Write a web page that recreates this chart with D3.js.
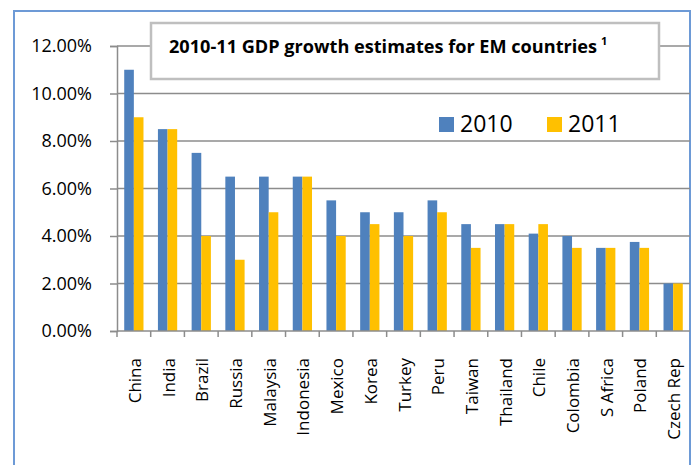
<!DOCTYPE html>
<html>
<head>
  <script src="https://d3js.org/d3.v7.min.js"></script>
  <style>
    body { margin: 0; background: #ffffff; }
    svg { display: block; font-family: "Open Sans", "DejaVu Sans", sans-serif; }
    .grid line { stroke: #8c8c8c; stroke-width: 1.5; }
    .axis path, .axis line { stroke: #8c8c8c; stroke-width: 1.5; }
    .axis text { fill: #000; font-size: 17px; font-family: "Open Sans", sans-serif; }
    .yaxis text { font-size: 18px; }
  </style>
</head>
<body>
<script>
var countries = ["China", "India", "Brazil", "Russia", "Malaysia", "Indonesia", "Mexico", "Korea",
  "Turkey", "Peru", "Taiwan", "Thailand", "Chile", "Colombia", "S Africa", "Poland", "Czech Rep"];
var growth2010 = [11, 8.5, 7.5, 6.5, 6.5, 6.5, 5.5, 5, 5, 5.5, 4.5, 4.5, 4.1, 4, 3.5, 3.75, 2];
var growth2011 = [9, 8.5, 4, 3, 5, 6.5, 4, 4.5, 4, 5, 3.5, 4.5, 4.5, 3.5, 3.5, 3.5, 2];
var yTicks = [0, 2, 4, 6, 8, 10, 12];
var seriesNames = ["2010", "2011"];
var colors = ["#4f81bd", "#ffc000"];

var width = 695, height = 465;
var margin = { left: 117, right: 5, top: 46, bottom: 134 };

var svg = d3.select("body").append("svg")
  .attr("width", width).attr("height", height);

// outer chart frame (bottom is cropped off)
svg.append("rect")
  .attr("x", 14).attr("y", 11)
  .attr("width", 676).attr("height", 470)
  .attr("fill", "none")
  .attr("stroke", "#6d9ad6")
  .attr("stroke-width", 2);

var x = d3.scaleBand()
  .domain(countries)
  .range([margin.left, width - margin.right]);

var y = d3.scaleLinear()
  .domain([0, 12])
  .range([height - margin.bottom, margin.top]);

var xs = d3.scaleBand()
  .domain(seriesNames)
  .range([0, x.bandwidth()])
  .paddingInner(0)
  .paddingOuter(0.75);

// gridlines
svg.append("g").attr("class", "grid")
  .selectAll("line")
  .data(yTicks.slice(1))
  .enter().append("line")
  .attr("x1", margin.left).attr("x2", width - margin.right)
  .attr("y1", function(d) { return y(d); })
  .attr("y2", function(d) { return y(d); });

// bars
var rows = countries.map(function(c, i) { return { c: c, v: [growth2010[i], growth2011[i]] }; });
var groups = svg.append("g").selectAll("g")
  .data(rows)
  .enter().append("g")
  .attr("transform", function(d) { return "translate(" + x(d.c) + ",0)"; });

groups.selectAll("rect")
  .data(function(d) { return d.v.map(function(v, j) { return { s: seriesNames[j], v: v, j: j }; }); })
  .enter().append("rect")
  .attr("x", function(d) { return xs(d.s); })
  .attr("width", xs.bandwidth())
  .attr("y", function(d) { return y(d.v); })
  .attr("height", function(d) { return y(0) - y(d.v); })
  .attr("fill", function(d) { return colors[d.j]; });

// y axis
var yAxis = svg.append("g").attr("class", "axis yaxis")
  .attr("transform", "translate(" + margin.left + ",0)")
  .call(d3.axisLeft(y).tickValues(yTicks).tickSizeOuter(0).tickSize(7).tickPadding(18)
    .tickFormat(function(d) { return d.toFixed(2) + "%"; }));

// x axis
var xTickPos = countries.map(function(c) { return x(c); });
var xAxis = svg.append("g").attr("class", "axis")
  .attr("transform", "translate(0," + y(0) + ")");
xAxis.append("line")
  .attr("x1", margin.left).attr("x2", width - margin.right)
  .attr("y1", 0).attr("y2", 0);
xAxis.selectAll(".tk")
  .data(xTickPos)
  .enter().append("line")
  .attr("class", "tk")
  .attr("x1", function(d) { return d; }).attr("x2", function(d) { return d; })
  .attr("y1", 0).attr("y2", 6);
xAxis.selectAll("text")
  .data(countries)
  .enter().append("text")
  .attr("transform", function(d) {
    return "translate(" + (x(d) + x.bandwidth() / 2 + 7) + ",27) rotate(-90)";
  })
  .attr("text-anchor", "end")
  .text(function(d) { return d; });

// title box
svg.append("rect")
  .attr("x", 151).attr("y", 23)
  .attr("width", 508).attr("height", 56)
  .attr("fill", "#fff")
  .attr("stroke", "#bfbfbf")
  .attr("stroke-width", 2.5);

var title = svg.append("text")
  .attr("x", 169).attr("y", 53)
  .attr("font-size", "17px")
  .attr("font-weight", "bold")
  .attr("textLength", 428)
  .attr("lengthAdjust", "spacingAndGlyphs")
  .text("2010-11 GDP growth estimates for EM countries");
svg.append("text")
  .attr("x", 601).attr("y", 45)
  .attr("font-size", "11px")
  .attr("font-weight", "bold")
  .text("1");

// legend
var legend = svg.append("g").selectAll("g")
  .data(seriesNames)
  .enter().append("g")
  .attr("transform", function(d, i) { return "translate(" + (439 + i * 108) + ",117)"; });
legend.append("rect")
  .attr("width", 15).attr("height", 15)
  .attr("fill", function(d, i) { return colors[i]; });
legend.append("text")
  .attr("x", 21).attr("y", 15)
  .attr("font-size", "23px")
  .text(function(d) { return d; });
</script>
</body>
</html>
